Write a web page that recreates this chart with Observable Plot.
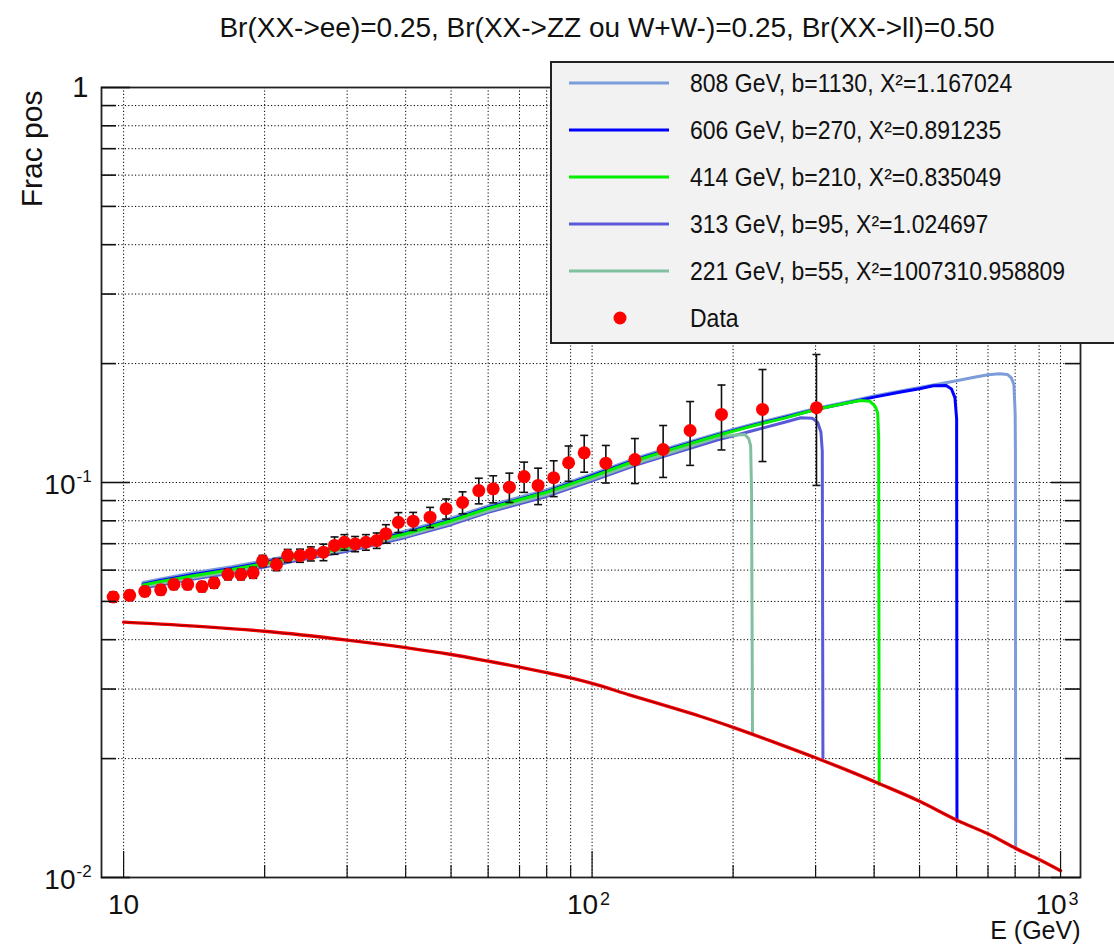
<!DOCTYPE html>
<html>
<head>
<meta charset="utf-8">
<script src="https://cdn.jsdelivr.net/npm/d3@7"></script>
<script src="https://cdn.jsdelivr.net/npm/@observablehq/plot@0.6"></script>
<style>
  html, body { margin: 0; padding: 0; background: #fff; overflow: hidden; }
  #wrap { position: relative; width: 1114px; height: 946px; overflow: hidden; font-family: "Liberation Sans", Arial, Helvetica, sans-serif; }
  #legend { position: absolute; left: 550px; top: 61px; width: 620px; height: 279px; background: #f2f2f2; border: 2px solid #222; }
  .row { position: absolute; left: 0; height: 30px; width: 600px; }
  .row svg { position: absolute; left: 0; top: 0; }
  .row span { position: absolute; left: 138px; top: 0; line-height: 30px; font-size: 23px; color: #111; white-space: nowrap; transform: scaleY(1.15); transform-origin: 0 50%; }
</style>
</head>
<body>
<div id="wrap">
  <div id="chart"></div>
  <div id="legend"></div>
</div>
<script>
// ---------------- data ----------------
const titleText = "Br(XX->ee)=0.25, Br(XX->ZZ ou W+W-)=0.25, Br(XX->ll)=0.50";
const yTitle = "Frac pos";
const xTitle = "E (GeV)";

// Data points
const dataE = [9.5, 10.3, 11.1, 12.0, 12.8, 13.7, 14.7, 15.6, 16.7, 17.8, 18.9, 19.8, 21.2, 22.4, 23.8, 25.1, 26.7, 28.2, 29.6, 31.2, 32.9, 34.7, 36.3, 38.6, 41.5, 45.1, 48.8, 52.9, 57.3, 61.5, 66.6, 71.6, 76.7, 82.8, 89.1, 96.2, 107, 123.4, 141.8, 161.9, 188.9, 231.1, 301.3];
const dataV = [0.0513, 0.0518, 0.0530, 0.0535, 0.0552, 0.0552, 0.0545, 0.0557, 0.0585, 0.0585, 0.0591, 0.0633, 0.0620, 0.0653, 0.0653, 0.0660, 0.0666, 0.0693, 0.0706, 0.0699, 0.0706, 0.0713, 0.0742, 0.0793, 0.0798, 0.0817, 0.0858, 0.0890, 0.0954, 0.0964, 0.0973, 0.1035, 0.0983, 0.1028, 0.1122, 0.1189, 0.1119, 0.1143, 0.1212, 0.1354, 0.1487, 0.1531, 0.1546];
const dataErr = [0.0015, 0.0015, 0.0015, 0.0015, 0.0016, 0.0016, 0.0016, 0.0017, 0.0018, 0.0018, 0.0019, 0.0021, 0.0022, 0.0024, 0.0025, 0.0027, 0.0032, 0.0035, 0.0032, 0.0031, 0.0032, 0.0032, 0.0040, 0.0046, 0.0042, 0.0048, 0.0050, 0.0057, 0.0071, 0.0076, 0.0083, 0.0091, 0.0104, 0.0107, 0.0115, 0.0127, 0.0122, 0.0149, 0.0182, 0.0249, 0.0278, 0.0401, 0.0563];

// Model curves
const c808E = [11, 12, 14, 17, 20, 25, 30, 40, 50, 60, 80, 100, 125, 150, 185, 220, 260, 300, 350, 400, 450, 500, 550, 600, 650, 700, 740, 770, 785, 795, 800, 801, 802];
const c808V = [0.0558, 0.0570, 0.0590, 0.0612, 0.0634, 0.0668, 0.0696, 0.0754, 0.0812, 0.0873, 0.0958, 0.1050, 0.1155, 0.1235, 0.1330, 0.1405, 0.1475, 0.1540, 0.1600, 0.1655, 0.1700, 0.1740, 0.1775, 0.1810, 0.1845, 0.1875, 0.1884, 0.1878, 0.1840, 0.1770, 0.1500, 0.1200, 0.0118];
const c606E = [11, 12, 14, 17, 20, 25, 30, 40, 50, 60, 80, 100, 125, 150, 185, 220, 260, 300, 350, 400, 450, 500, 535, 570, 585, 595, 600, 601];
const c606V = [0.0553, 0.0565, 0.0584, 0.0606, 0.0628, 0.0661, 0.0689, 0.0746, 0.0804, 0.0864, 0.0948, 0.1040, 0.1145, 0.1225, 0.1320, 0.1395, 0.1465, 0.1530, 0.1590, 0.1645, 0.1690, 0.1728, 0.1758, 0.1760, 0.1725, 0.1640, 0.1450, 0.0139];
const c414E = [11, 12, 14, 17, 20, 25, 30, 40, 50, 60, 80, 100, 125, 150, 185, 220, 260, 300, 350, 374, 392, 402, 407, 409, 410];
const c414V = [0.0550, 0.0562, 0.0580, 0.0602, 0.0624, 0.0658, 0.0685, 0.0742, 0.0800, 0.0860, 0.0945, 0.1035, 0.1140, 0.1220, 0.1315, 0.1390, 0.1460, 0.1530, 0.1590, 0.1613, 0.1605, 0.1560, 0.1500, 0.1300, 0.0172];
const c313E = [11, 12, 14, 17, 20, 25, 30, 40, 50, 60, 80, 100, 125, 150, 185, 220, 260, 279, 295, 303, 308, 310, 311];
const c313V = [0.0540, 0.0551, 0.0569, 0.0590, 0.0611, 0.0644, 0.0670, 0.0726, 0.0782, 0.0840, 0.0922, 0.1010, 0.1110, 0.1188, 0.1280, 0.1352, 0.1425, 0.1459, 0.1455, 0.1420, 0.1340, 0.1200, 0.0201];
const c221E = [11, 12, 14, 17, 20, 25, 30, 40, 50, 60, 80, 100, 125, 150, 185, 200, 212, 216, 218, 219, 220];
const c221V = [0.0545, 0.0556, 0.0574, 0.0596, 0.0617, 0.0650, 0.0677, 0.0733, 0.0790, 0.0848, 0.0932, 0.1020, 0.1122, 0.1200, 0.1300, 0.1318, 0.1323, 0.1290, 0.1240, 0.0940, 0.0232];

// Background (red) curve
const bkgE = [10, 15, 20, 30, 40, 50, 60, 70, 80, 90, 100, 120, 150, 170, 200, 250, 300, 350, 414, 500, 606, 700, 808, 900, 1000];
const bkgV = [0.0443, 0.0431, 0.0420, 0.0399, 0.0382, 0.0367, 0.0353, 0.0341, 0.0330, 0.0320, 0.0310, 0.0290, 0.0268, 0.0256, 0.0240, 0.0218, 0.0201, 0.0187, 0.0172, 0.0156, 0.0139, 0.0129, 0.0118, 0.0111, 0.0104];

// Series labels and colours
const seriesLabels = ["808 GeV, b=1130, X²=1.167024", "606 GeV, b=270, X²=0.891235", "414 GeV, b=210, X²=0.835049", "313 GeV, b=95, X²=1.024697", "221 GeV, b=55, X²=1007310.958809"];
const seriesColors = ["#7c9dd9", "#0000ff", "#00f000", "#5a5ad8", "#80c0a0"];
const dataLabel = "Data";

// Axes
const xDomain = [8.97, 1103];
const yDomain = [0.01, 1];
const xMajor = [10, 100, 1000];
const xMinor = [20, 30, 40, 50, 60, 70, 80, 90, 200, 300, 400, 500, 600, 700, 800, 900];
const yMajor = [0.01, 0.1, 1];
const yMinor = [0.02, 0.03, 0.04, 0.05, 0.06, 0.07, 0.08, 0.09, 0.2, 0.3, 0.4, 0.5, 0.6, 0.7, 0.8, 0.9];
const xTickBase = ["10", "10", "10"];
const xTickExp = ["", "2", "3"];
const yTickBase = ["10", "10", "1"];
const yTickExp = ["-2", "-1", ""];

// ---------------- build ----------------
const W = 1114, H = 946;
const mL = 101, mR = 34, mT = 87, mB = 69;
const FW = W - mL - mR, FH = H - mT - mB;
const FONT = "Liberation Sans, Arial, Helvetica, sans-serif";

const points = dataE.map((E, i) => ({E, v: dataV[i], lo: dataV[i] - dataErr[i], hi: dataV[i] + dataErr[i]}));
const curves = [
  {E: c808E, V: c808V},
  {E: c606E, V: c606V},
  {E: c414E, V: c414V},
  {E: c313E, V: c313V},
  {E: c221E, V: c221V}
].map((c, k) => c.E.map((E, i) => ({E, v: c.V[i], k})));
const bkg = bkgE.map((E, i) => ({E, v: bkgV[i]}));

const capSymbol = { draw(ctx, size) { const r = Math.sqrt(size / Math.PI); ctx.moveTo(-r, 0); ctx.lineTo(r, 0); } };

const xTicks = xMajor.map((v, i) => ({v, base: xTickBase[i], exp: xTickExp[i]}));
const yTicks = yMajor.map((v, i) => ({v, base: yTickBase[i], exp: yTickExp[i]}));

const drawOrder = [3, 4, 0, 1, 2];
const gridStyle = {stroke: "#000", strokeWidth: 1, strokeDasharray: "1.2,2.2", strokeOpacity: 1};

const chart = Plot.plot({
  width: W, height: H,
  marginLeft: mL, marginRight: mR, marginTop: mT, marginBottom: mB,
  x: {type: "log", domain: xDomain, axis: null},
  y: {type: "log", domain: yDomain, axis: null},
  style: {fontFamily: FONT, background: "white", overflow: "visible", color: "#111"},
  marks: [
    // grid
    Plot.ruleX([...xMajor, ...xMinor], {x: d => d, ...gridStyle}),
    Plot.ruleY([0.1, ...yMinor], {y: d => d, ...gridStyle}),
    // model curves
    ...drawOrder.map(k => Plot.line(curves[k], {x: "E", y: "v", stroke: seriesColors[k], strokeWidth: 3, strokeLinejoin: "round"})),
    // background curve
    Plot.line(bkg, {x: "E", y: "v", stroke: "#ff0000", strokeWidth: 3.4, curve: "monotone-x"}),
    Plot.line(bkg, {x: "E", y: "v", stroke: "#200", strokeWidth: 1, strokeOpacity: 0.55, curve: "monotone-x"}),
    // error bars
    Plot.ruleX(points, {x: "E", y1: "lo", y2: "hi", stroke: "#111", strokeWidth: 1.6}),
    Plot.dot(points, {x: "E", y: "hi", r: 4, symbol: capSymbol, stroke: "#111", strokeWidth: 1.6, fill: "none"}),
    Plot.dot(points, {x: "E", y: "lo", r: 4, symbol: capSymbol, stroke: "#111", strokeWidth: 1.6, fill: "none"}),
    // data markers
    Plot.dot(points, {x: "E", y: "v", r: 6.5, fill: "#ff0000", stroke: "none"}),
    // frame
    Plot.frame({stroke: "#222", strokeWidth: 1.8}),
    // ticks (inside frame)
    Plot.tickY(yMinor, {y: d => d, insetRight: FW - 15, stroke: "#111", strokeWidth: 1.6}),
    Plot.tickY(yMajor, {y: d => d, insetRight: FW - 29, stroke: "#111", strokeWidth: 1.6}),
    Plot.tickY(yMinor, {y: d => d, insetLeft: FW - 15, stroke: "#111", strokeWidth: 1.6}),
    Plot.tickY(yMajor, {y: d => d, insetLeft: FW - 29, stroke: "#111", strokeWidth: 1.6}),
    Plot.tickX(xMinor, {x: d => d, insetTop: FH - 12, stroke: "#111", strokeWidth: 1.2}),
    Plot.tickX(xMajor, {x: d => d, insetTop: FH - 26, stroke: "#111", strokeWidth: 1.2}),
    // x tick labels
    Plot.text(xTicks.filter(d => !d.exp), {x: "v", text: "base", frameAnchor: "bottom", textAnchor: "middle", dy: 36, fontSize: 28, fill: "#111"}),
    Plot.text(xTicks.filter(d => d.exp), {x: "v", text: "base", frameAnchor: "bottom", textAnchor: "end", dx: 6, dy: 36, fontSize: 28, fill: "#111"}),
    Plot.text(xTicks.filter(d => d.exp), {x: "v", text: "exp", frameAnchor: "bottom", textAnchor: "start", dx: 8, dy: 27, fontSize: 18, fill: "#111"}),
    // y tick labels
    Plot.text(yTicks.filter(d => !d.exp), {y: "v", text: "base", frameAnchor: "left", textAnchor: "end", dx: -13, dy: 0, fontSize: 29, fill: "#111"}),
    Plot.text(yTicks.filter(d => d.exp), {y: "v", text: "base", frameAnchor: "left", textAnchor: "end", dx: -26, dy: 3, fontSize: 28, fill: "#111"}),
    Plot.text(yTicks.filter(d => d.exp), {y: "v", text: "exp", frameAnchor: "left", textAnchor: "start", dx: -25, dy: -6, fontSize: 17, fill: "#111"}),
    // axis titles
    Plot.text([yTitle], {text: d => d, frameAnchor: "top-left", rotate: -90, textAnchor: "end", lineAnchor: "bottom", dx: -60, dy: 3, fontSize: 30, fill: "#111"}),
    Plot.text([xTitle], {text: d => d, frameAnchor: "bottom-right", textAnchor: "end", lineAnchor: "bottom", dx: 0, dy: 61, fontSize: 25, fill: "#111"}),
    // title
    Plot.text([titleText], {text: d => d, frameAnchor: "top", textAnchor: "middle", lineAnchor: "bottom", dx: 16, dy: -51, fontSize: 28, fill: "#111"})
  ]
});
document.getElementById("chart").appendChild(chart);

// ---------------- legend ----------------
const legend = document.getElementById("legend");
const rowTops = [20, 67, 114, 161, 208, 255];
seriesLabels.forEach((label, k) => {
  const row = document.createElement("div");
  row.className = "row";
  row.style.top = (rowTops[k] - 15) + "px";
  row.innerHTML = `<svg width="130" height="30"><line x1="17" x2="117" y1="15" y2="15" stroke="${seriesColors[k]}" stroke-width="3"/></svg><span></span>`;
  row.querySelector("span").textContent = label;
  legend.appendChild(row);
});
{
  const row = document.createElement("div");
  row.className = "row";
  row.style.top = (rowTops[5] - 15) + "px";
  row.innerHTML = `<svg width="130" height="30"><circle cx="68" cy="15" r="6.5" fill="#ff0000"/></svg><span></span>`;
  row.querySelector("span").textContent = dataLabel;
  legend.appendChild(row);
}
</script>
</body>
</html>
